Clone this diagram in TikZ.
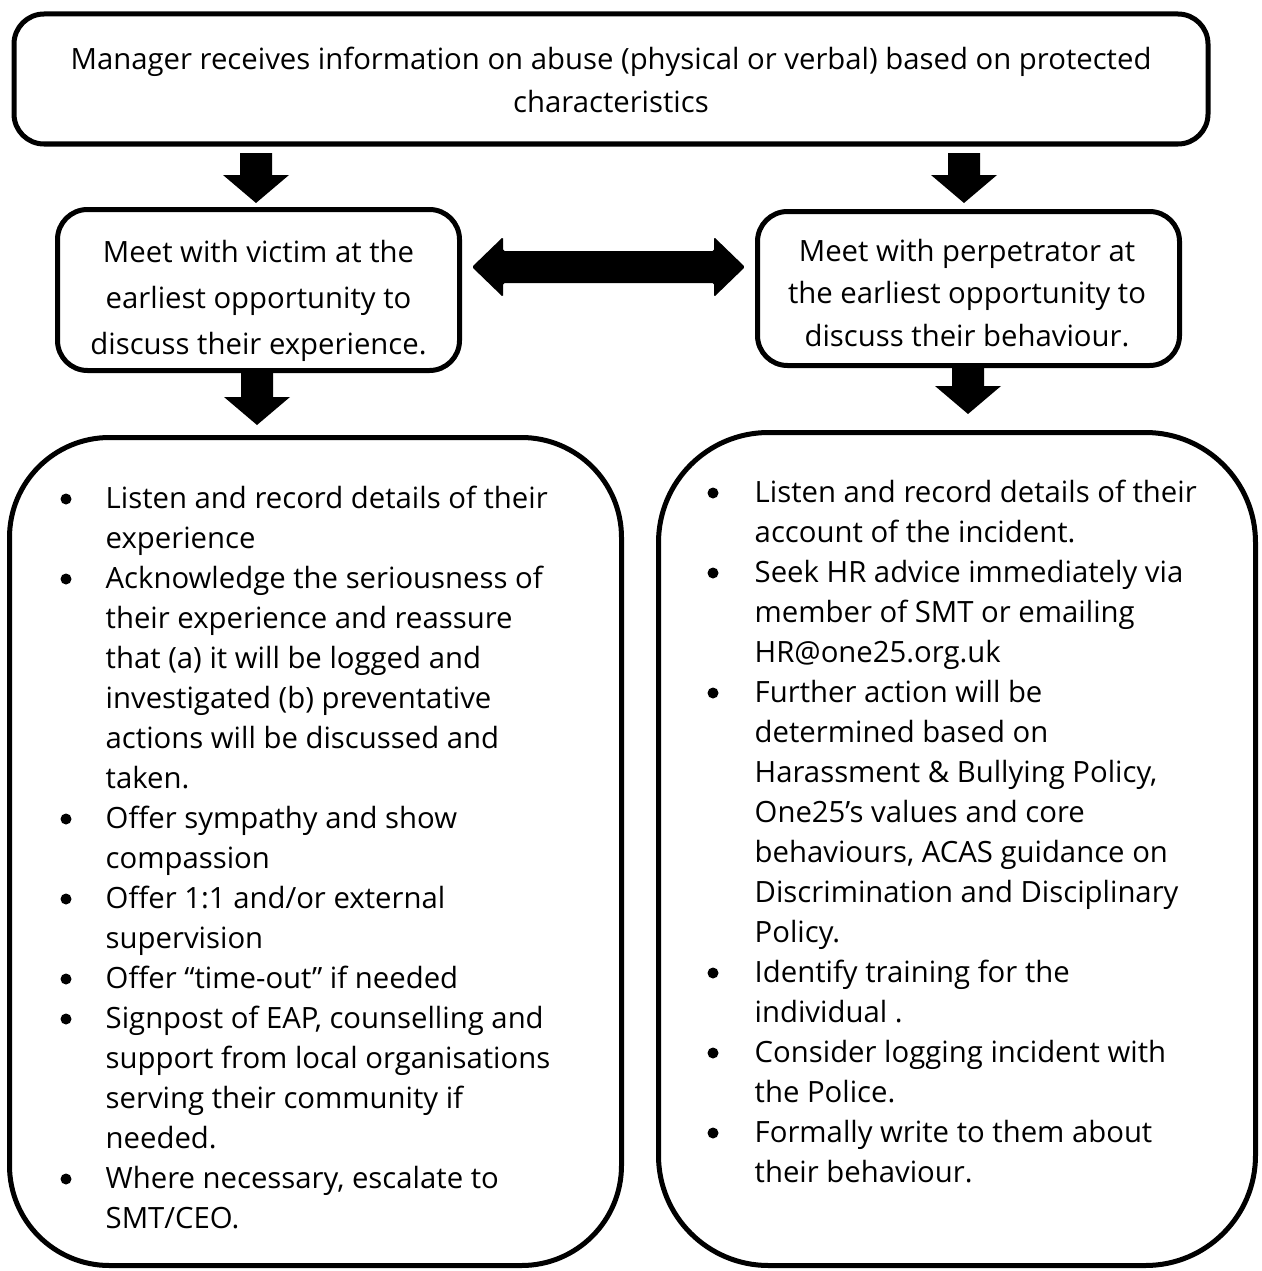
\documentclass[tikz,border=0pt]{standalone}
\usepackage{fontspec}
\setmainfont{Open Sans}
\usetikzlibrary{calc}
\newcommand\fsz{\fontsize{29.3}{40}\selectfont}
\newlength\bw
\newcommand\bitem{\par\noindent\hangindent=\bw\hangafter=1\hspace*{\bw}}
\newcommand\blockdown[2]{%
  \fill let \p1=(#1), \p2=(#2) in
    (\x1-16pt,\y1) -- (\x1+16pt,\y1) -- (\x1+16pt,\y2+28pt) -- (\x1+33pt,\y2+28pt)
    -- (\x2,\y2) -- (\x1-33pt,\y2+28pt) -- (\x1-16pt,\y2+28pt) -- cycle;}
\tikzset{
  box/.style={draw, line width=5pt, rounded corners=30pt, inner sep=0pt},
  bigbox/.style={draw, line width=5pt, rounded corners=#1, inner sep=0pt},
  txt/.style={inner sep=0pt},
  bulletdot/.style={fill=black},
}
\begin{document}
\begin{tikzpicture}[x=1pt,y=-1pt]
\useasboundingbox (0,0) rectangle (1261,1271);
% boxes
\node[box, minimum width=1194pt, minimum height=130pt] (top) at (611,79) {};
\node[box, minimum width=402pt, minimum height=161pt] (midL) at (258.5,290) {};
\node[box, minimum width=422pt, minimum height=154pt] (midR) at (968.5,288.5) {};
\node[bigbox=100pt, minimum width=612pt, minimum height=828pt] (botL) at (315.5,851.5) {};
\node[bigbox=110pt, minimum width=597pt, minimum height=833pt] (botR) at (957,849) {};
% texts
\node[txt, anchor=base] (topt) at (611,70) {\begin{minipage}[t]{1190pt}\centering\fontsize{29.3}{43}\selectfont
Manager receives information on abuse (physical or verbal) based on protected\\characteristics\end{minipage}};
\node[txt, anchor=base] (midLt) at (258.5,262) {\begin{minipage}[t]{400pt}\centering\fontsize{29.3}{46}\selectfont
Meet with victim at the\\earliest opportunity to\\discuss their experience.\end{minipage}};
\node[txt, anchor=base] (midRt) at (967,261) {\begin{minipage}[t]{420pt}\centering\fontsize{29.3}{42.5}\selectfont
Meet with perpetrator at\\the earliest opportunity to\\discuss their behaviour.\end{minipage}};
\node[txt, anchor=base west] (botLt) at (26.5,508) {\begin{minipage}[t]{600pt}\fsz\setlength\bw{79pt}%
\bitem Listen and record details of their\newline experience
\bitem Acknowledge the seriousness of\newline their experience and reassure\newline that (a) it will be logged and\newline investigated (b) preventative\newline actions will be discussed and\newline taken.
\bitem Offer sympathy and show\newline compassion
\bitem Offer 1:1 and/or external\newline supervision
\bitem Offer “time-out” if needed
\bitem Signpost of EAP, counselling and\newline support from local organisations\newline serving their community if\newline needed.
\bitem Where necessary, escalate to\newline SMT/CEO.\par\end{minipage}};
\node[txt, anchor=base west] (botRt) at (671.5,502) {\begin{minipage}[t]{600pt}\fsz\setlength\bw{83pt}%
\bitem Listen and record details of their\newline account of the incident.
\bitem Seek HR advice immediately via\newline member of SMT or emailing\newline HR@one25.org.uk
\bitem Further action will be\newline determined based on\newline Harassment \& Bullying Policy,\newline One25’s values and core\newline behaviours, ACAS guidance on\newline Discrimination and Disciplinary\newline Policy.
\bitem Identify training for the\newline individual .
\bitem Consider logging incident with\newline the Police.
\bitem Formally write to them about\newline their behaviour.\par\end{minipage}};
% bullets
\foreach \i in {0,2,8,10,12,13,17} \fill[bulletdot] (66,{508+40*\i-9}) circle[radius=5.5pt];
\foreach \i in {0,2,5,12,14,16} \fill[bulletdot] (713,{502+40*\i-9}) circle[radius=5.5pt];
% arrows
\coordinate (a1s) at (256,153); \coordinate (a1e) at (256,203);
\coordinate (a2s) at (964,153); \coordinate (a2e) at (964,203);
\coordinate (a3s) at (257,371); \coordinate (a3e) at (257,425);
\coordinate (a4s) at (968,364); \coordinate (a4e) at (968,414);
\blockdown{a1s}{a1e}
\blockdown{a2s}{a2e}
\blockdown{a3s}{a3e}
\blockdown{a4s}{a4e}
\coordinate (dl) at (472,267); \coordinate (dr) at (745,267);
\fill[rounded corners=1.5pt] let \p1=(dl), \p2=(dr) in
  (\x1,\y1) -- (\x1+31pt,\y1+30pt) -- (\x1+31pt,\y1+16pt) -- (\x2-31pt,\y2+16pt)
  -- (\x2-31pt,\y2+30pt) -- (\x2,\y2) -- (\x2-31pt,\y2-30pt) -- (\x2-31pt,\y2-16pt)
  -- (\x1+31pt,\y1-16pt) -- (\x1+31pt,\y1-30pt) -- cycle;
\end{tikzpicture}
\end{document}
